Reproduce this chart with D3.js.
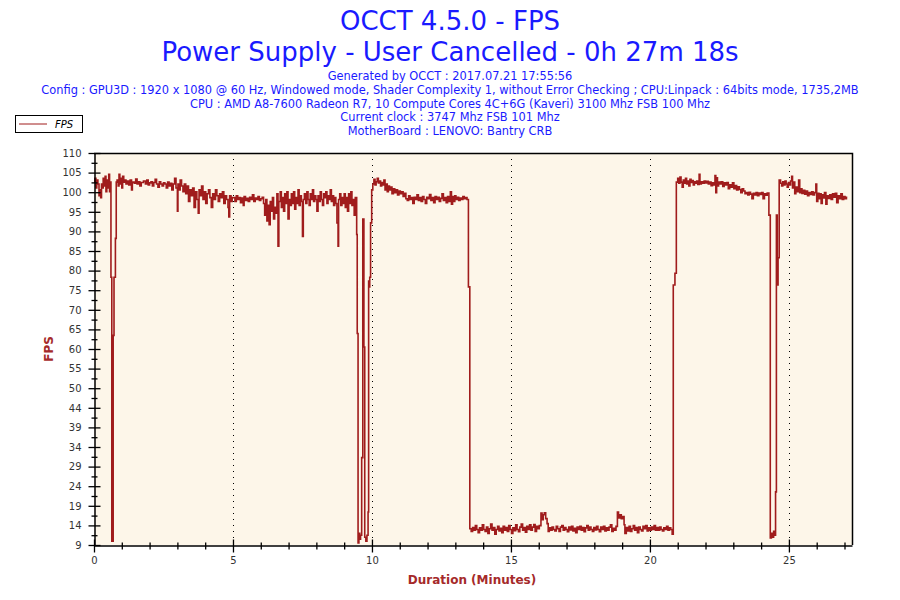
<!DOCTYPE html>
<html>
<head>
<meta charset="utf-8">
<script src="https://cdn.jsdelivr.net/npm/d3@7"></script>
<style>
body { margin: 0; background: #fff; }
text { font-family: "DejaVu Sans", Verdana, sans-serif; }
</style>
</head>
<body>
<div id="viz"></div>
<script>
// header text
var titleLines = ["OCCT 4.5.0 - FPS", "Power Supply - User Cancelled - 0h 27m 18s"];
var infoLines = [
    "Generated by OCCT : 2017.07.21 17:55:56",
    "Config : GPU3D : 1920 x 1080 @ 60 Hz, Windowed mode, Shader Complexity 1, without Error Checking ; CPU:Linpack : 64bits mode, 1735,2MB",
    "CPU : AMD A8-7600 Radeon R7, 10 Compute Cores 4C+6G (Kaveri) 3100 Mhz FSB 100 Mhz",
    "Current clock : 3747 Mhz FSB 101 Mhz",
    "MotherBoard : LENOVO: Bantry CRB"
];
var yTickLabels = ["9","14","19","24","29","34","39","44","50","55","60","65","70","75","80","85","90","95","100","105","110"];
var xTickLabels = ["0","5","10","15","20","25"];

// [minutes, fps], phase by phase
var startRun = [[0,102.5],[0.03,103.5],[0.07,101],[0.1,103],[0.14,102],[0.18,99],[0.21,100.5],[0.24,98.5],[0.27,102],[0.3,101],[0.33,103.5],[0.37,101.5],[0.4,104],[0.43,100],[0.46,103],[0.5,101],[0.53,104.5],[0.56,100],[0.58,102.5],
    [0.61,78],[0.64,10],[0.69,63],[0.72,78],[0.77,88],[0.8,102.5]];
var firstRun = [[0.83,103],[0.87,101.5],[0.9,104.5],[0.93,102],[0.97,103.5],[1.0,101],[1.03,104],[1.07,102.5],[1.1,103],[1.15,102],[1.2,102.8],[1.25,101.8],[1.3,103],[1.35,100.5],[1.38,102.5],[1.45,102.2],[1.5,103.3],[1.55,102],[1.6,102.6],[1.65,101.5],[1.7,102.4],[1.78,102.8],[1.85,102],[1.9,103],[1.95,101.8],[2.0,102.3],[2.05,102.6],[2.1,101.5],[2.15,102.4],[2.2,103.2],[2.25,102],[2.3,101.2],[2.35,102.6],[2.4,102],[2.45,101.5],[2.5,102.3],[2.55,102],[2.6,101],[2.65,102.5],[2.7,101.5],[2.75,102.2],[2.8,100.5],[2.85,102],
    [2.9,103.5],[2.95,101],[3.0,95],[3.02,102],[3.06,100.5],[3.1,103],[3.15,101.5],[3.2,100],[3.25,102],[3.3,99.5],[3.35,101.5],[3.4,97.5],[3.45,100.5],[3.5,99],[3.55,101],[3.6,96],[3.65,100],[3.7,98],[3.75,94.5],[3.78,100.5],[3.82,99],[3.87,101.5],[3.92,98],[3.97,100],[4.02,97],[4.07,99.5],[4.12,100.5],[4.17,98.5],[4.22,96],[4.27,99.5],[4.32,98],[4.37,100.5],[4.42,99],[4.47,97.5],[4.52,99.5],[4.57,98.5],[4.62,100],[4.67,97],[4.72,99],[4.77,98],[4.82,96],[4.85,93.5],[4.88,99],[4.93,97.5],[4.97,98.5],
    [5.02,98.5],[5.07,97.5],[5.12,99],[5.17,98],[5.22,98.5],[5.27,97.2],[5.32,98.4],[5.37,96.5],[5.4,98.8],[5.45,97.8],[5.5,98.3],[5.55,97.5],[5.6,98.6],[5.65,98],[5.7,99.2],[5.75,97.5],[5.8,98.4],[5.85,98],[5.9,98.8],[5.95,97.8],[6.0,98.2],[6.05,98.6],
    [6.1,97],[6.14,94],[6.18,98],[6.22,92.5],[6.26,96.5],[6.3,91.5],[6.34,97.5],[6.38,95],[6.42,98.5],[6.46,93],[6.5,96],[6.54,94.5],[6.58,99.5],[6.62,86],[6.65,97.5],[6.7,100],[6.74,96],[6.78,98.5],[6.82,95],[6.86,99.5],[6.9,97],[6.94,100],[6.98,93],[7.02,98],[7.06,96.5],[7.1,99.5],[7.14,97],[7.18,100],[7.22,95.5],[7.26,98.5],[7.3,97],[7.34,100.5],[7.38,96.5],[7.42,99],[7.46,97.5],[7.5,88.5],[7.53,98],[7.57,99.5],[7.62,97],[7.66,100],[7.7,98],[7.74,96.5],[7.78,99.5],[7.82,98],[7.86,100.5],[7.9,97.5],[7.94,99],[7.98,98],[8.02,95],[8.06,99],[8.1,97.5],[8.14,100],[8.18,98],[8.22,96.5],[8.26,99.5],[8.3,98.5],[8.34,100],[8.38,97],[8.42,99],[8.46,98],[8.5,100.5],[8.54,97.5],[8.58,99],[8.62,96.5],[8.66,98.5],[8.7,97],[8.74,92],[8.78,86],[8.8,98],[8.84,99.5],[8.88,96.5],[8.92,98.5],[8.96,97],[9.0,99.5],[9.04,96],[9.08,98.5],[9.12,95],[9.16,99.5],[9.2,97],[9.24,100],[9.28,96.5],[9.32,98],[9.36,94],[9.4,98.5]];
var firstDrop = [[9.45,89],[9.47,63.5],[9.5,9.5],[9.53,12],[9.56,10.5],[9.59,11.5],[9.63,31.5],[9.67,93],[9.71,60],[9.74,11],[9.78,10],[9.82,11.5],[9.86,17.5],[9.88,77],[9.9,75.5],[9.92,78],[9.95,92],[9.99,100.5]];
var secondRun = [[10.03,102],[10.07,103.2],[10.11,101.8],[10.15,102.6],[10.19,103.5],[10.23,102.3],[10.27,102.8],[10.31,101.5],[10.35,102.4],[10.39,101.8],[10.43,103],[10.47,100.5],[10.51,102],[10.55,100],[10.59,101.5],[10.63,100.5],[10.67,101.2],[10.72,99.5],[10.77,100.8],[10.82,99.8],[10.87,100.5],[10.92,99.2],[10.97,100.2],[11.02,99.5],[11.07,100],[11.12,98.8],[11.17,99.6],[11.22,98.2],[11.27,97.8],[11.32,99],[11.37,98],[11.42,98.5],[11.47,97],[11.52,98.6],[11.57,98],[11.62,99.2],[11.67,97.8],[11.72,98.5],[11.77,97.5],[11.82,98.8],[11.87,98],[11.92,97],[11.97,98.6],[12.02,98.2],[12.07,99.3],[12.12,97.8],[12.17,98.5],[12.22,97.2],[12.27,98.8],[12.32,98],[12.37,98.6],[12.42,97.5],[12.47,98.3],[12.52,99.5],[12.57,97.8],[12.62,98.5],[12.67,97.2],[12.72,98.8],[12.77,97.5],[12.82,100],[12.86,96.8],[12.9,98.8],[12.94,97.5],[12.98,99],[13.02,98],[13.07,98.6],[13.12,97.8],[13.17,98.4],[13.22,98],[13.27,98.8],[13.32,98.2],[13.37,98.5],[13.42,98],
    [13.47,75.5],[13.52,13.2]];
var lowRun = [[13.57,12.5],[13.62,13.5],[13.67,12.8],[13.72,14],[13.77,13],[13.82,12.2],[13.87,13.4],[13.92,12.8],[13.97,14.2],[14.02,13],[14.07,12.5],[14.12,13.6],[14.17,12],[14.22,13.2],[14.27,14.4],[14.32,12.8],[14.37,13.5],[14.42,11.8],[14.47,13],[14.52,13.8],[14.57,12.6],[14.62,13.3],[14.67,12.2],[14.72,13.8],[14.77,12.8],[14.82,13.5],[14.87,12.5],[14.92,14],[14.97,13],[15.02,12],[15.07,13.4],[15.12,12.7],[15.17,14.2],[15.22,13],[15.27,12.4],[15.32,13.6],[15.37,14.4],[15.42,12.8],[15.47,13.5],[15.52,12.3],[15.57,13.8],[15.62,13],[15.67,14.2],[15.72,12.8],[15.77,13.6],[15.82,14.3],[15.87,12.5],[15.92,13.8],[15.97,13.2],[16.02,14],[16.08,17.2],[16.12,15.5],[16.16,16.8],[16.2,17.3],[16.25,15.8],[16.3,14.5],[16.34,12.5],[16.38,13.4],[16.43,12.8],[16.48,13.6],[16.53,13],[16.58,12.6],[16.63,13.8],[16.68,13.2],[16.73,12.5],[16.78,13.6],[16.83,14],[16.88,12.8],[16.93,13.5],[16.98,13],[17.03,12.4],[17.08,13.6],[17.13,12.9],[17.18,13.8],[17.23,12.6],[17.28,13.3],[17.33,12.2],[17.38,13.6],[17.43,13],[17.48,13.8],[17.53,12.8],[17.58,13.5],[17.63,12.4],[17.68,13.4],[17.73,14],[17.78,12.8],[17.83,13.6],[17.88,13],[17.93,12.5],[17.98,13.5],[18.03,12.9],[18.08,13.8],[18.13,13],[18.18,12.4],[18.23,13.6],[18.28,13],[18.33,13.8],[18.38,12.6],[18.43,13.4],[18.48,12.8],[18.53,13.6],[18.58,14.2],[18.63,12.5],[18.68,13.3],[18.73,12.8],[18.78,13.8],[18.83,17.5],[18.87,16],[18.92,16.8],[18.97,15.8],[19.02,16.3],[19.07,14.2],[19.1,12],[19.15,13.5],[19.2,12.6],[19.25,13.8],[19.3,12.5],[19.35,13.2],[19.4,14],[19.45,12.8],[19.5,13.5],[19.55,12.2],[19.6,13.6],[19.65,13],[19.7,12.6],[19.75,13.8],[19.8,13.2],[19.85,14],[19.9,12.6],[19.95,13.4],[20.0,12.8],[20.05,13.6],[20.1,13],[20.15,14],[20.2,12.8],[20.25,13.5],[20.3,12.8],[20.35,13.6],[20.4,13],[20.45,12.6],[20.5,13.4],[20.55,13],[20.6,13.8],[20.65,12.8],[20.7,13.4],[20.75,13],[20.8,11.8],
    [20.84,76],[20.9,79],[20.95,102.5]];
var thirdRun = [[21.0,103.5],[21.04,102.2],[21.08,103.8],[21.12,102.5],[21.16,101.2],[21.2,103],[21.24,102.2],[21.28,103.5],[21.32,102],[21.36,102.8],[21.4,101.5],[21.44,103.2],[21.48,102.4],[21.52,102.9],[21.56,101.8],[21.6,102.6],[21.64,102.2],[21.68,102.8],[21.72,101.9],[21.77,104.5],[21.8,102],[21.85,102.6],[21.9,102.2],[21.95,102.8],[22.0,102.3],[22.05,102.7],[22.1,102],[22.15,102.5],[22.2,101.6],[22.25,102.3],[22.3,101.8],[22.34,104.2],[22.37,99.8],[22.4,103.6],[22.43,101.5],[22.47,102.5],[22.52,102],[22.57,102.6],[22.62,101.4],[22.67,102.3],[22.72,101.8],[22.77,102.4],[22.82,100.8],[22.87,101.8],[22.92,101.2],[22.97,102.3],[23.02,100.8],[23.07,101.6],[23.12,100.5],[23.17,101.3],[23.22,100.6],[23.27,99.8],[23.32,100.8],[23.37,100.2],[23.42,99.5],[23.47,99.8],[23.52,99.2],[23.57,99.9],[23.62,99.4],[23.67,98.2],[23.72,99.6],[23.77,99.2],[23.82,99.8],[23.87,99],[23.92,99.7],[23.97,99.3],[24.02,99.8],[24.07,98.2],[24.12,99.5],[24.17,99.1],[24.22,99.7]];
var lastDrop = [[24.28,94],[24.33,10.8],[24.37,12],[24.41,11],[24.45,12.5],[24.49,11.5],[24.52,22.7],[24.55,94],[24.58,76],[24.61,83],[24.65,103]];
var lastRun = [[24.7,102.2],[24.74,101.5],[24.78,102.6],[24.82,101.8],[24.86,102.8],[24.9,102],[24.94,101.2],[24.98,102.4],[25.02,101.8],[25.06,102.8],[25.1,104],[25.13,101],[25.17,102.5],[25.21,99.5],[25.25,101.2],[25.3,100],[25.35,103],[25.39,99.8],[25.43,100.8],[25.47,99.6],[25.52,100.4],[25.57,99.4],[25.62,100.2],[25.67,99],[25.72,99.8],[25.77,99.3],[25.82,100],[25.87,99.2],[25.92,99.8],[25.97,102],[26.0,97.5],[26.04,99.6],[26.08,98.2],[26.12,99.5],[26.16,97],[26.2,99.2],[26.24,98.4],[26.28,99.8],[26.33,96.8],[26.37,99],[26.42,98.3],[26.47,99.2],[26.52,98],[26.57,99.5],[26.62,98.6],[26.67,99.6],[26.72,97.2],[26.77,99],[26.82,98.2],[26.87,99.5],[26.92,98],[26.97,98.8],[27.02,98.2],[27.07,98.6],[27.1,98.6]];

var fpsData = [].concat(startRun, firstRun, firstDrop, secondRun, lowRun, thirdRun, lastDrop, lastRun);

var W = 900, H = 600;
var svg = d3.select("#viz").append("svg")
        .attr("width", W)
        .attr("height", H);

var blue = "#1a1aff";
var red = "#a01c1c";
var plotL = 94, plotR = 852, plotT = 153, plotB = 545;

var x = d3.scaleLinear().domain([0, 27.27]).range([plotL, plotR]);
var y = d3.scaleLinear().domain([9, 110]).range([plotB, plotT]);

// titles
svg.selectAll("text.title")
    .data(titleLines)
    .enter().append("text")
    .attr("class", "title")
    .attr("x", 450)
    .attr("y", function(d, i) { return 30 + i * 31; })
    .attr("text-anchor", "middle")
    .style("font-size", "26px")
    .style("fill", blue)
    .text(function(d) { return d; });

svg.selectAll("text.info")
    .data(infoLines)
    .enter().append("text")
    .attr("class", "info")
    .attr("x", 450)
    .attr("y", function(d, i) { return 80 + i * 13.8; })
    .attr("text-anchor", "middle")
    .style("font-size", "11.4px")
    .style("fill", blue)
    .text(function(d) { return d; });

// legend
var legend = svg.append("g");
legend.append("rect")
    .attr("x", 15.5).attr("y", 115.5)
    .attr("width", 67).attr("height", 17)
    .style("fill", "#fff").style("stroke", "#000");
legend.append("line")
    .attr("x1", 19).attr("x2", 47).attr("y1", 124).attr("y2", 124)
    .style("stroke", red).style("stroke-width", 1);
legend.append("text")
    .attr("x", 55).attr("y", 128)
    .style("font-size", "10px").style("font-style", "italic")
    .style("fill", "#000")
    .text("FPS");

// plot background
svg.append("rect")
    .attr("x", plotL).attr("y", plotT)
    .attr("width", plotR - plotL).attr("height", plotB - plotT)
    .style("fill", "#fdf6e9");

// dotted verticals
svg.selectAll("line.grid")
    .data([5, 10, 15, 20, 25])
    .enter().append("line")
    .attr("class", "grid")
    .attr("x1", function(d) { return Math.round(x(d)) + 0.5; })
    .attr("x2", function(d) { return Math.round(x(d)) + 0.5; })
    .attr("y1", plotT).attr("y2", plotB)
    .style("stroke", "#000")
    .style("stroke-dasharray", "1,5");

// the FPS trace
var line = d3.line()
    .curve(d3.curveStepAfter)
    .x(function(d) { return x(d[0]); })
    .y(function(d) { return y(d[1]); });

svg.append("path")
    .datum(fpsData)
    .attr("d", line)
    .style("fill", "none")
    .style("stroke", red)
    .style("stroke-width", 1.6);

// frame top/right
svg.append("path")
    .attr("d", "M" + plotL + "," + (plotT + 0.5) + "H" + (plotR + 0.5) + "V" + plotB)
    .style("fill", "none").style("stroke", "#000").style("stroke-width", 1.5);

// y axis
var yMajor = d3.range(21).map(function(i) { return 9 + i * 101 / 20; });
var yMinor = d3.range(20).map(function(i) { return 9 + (i + 0.5) * 101 / 20; });

var yAxis = svg.append("g")
    .attr("transform", "translate(" + (plotL + 0.5) + ",0)")
    .call(d3.axisLeft(y).tickValues(yMajor).tickSize(6).tickSizeOuter(0)
        .tickFormat(function(d, i) { return yTickLabels[i]; }));
yAxis.selectAll(".tick line").attr("x2", 6).attr("x1", -6);
yAxis.selectAll(".tick text").attr("x", -13);

var yAxisMinor = svg.append("g")
    .attr("transform", "translate(" + (plotL + 0.5) + ",0)")
    .call(d3.axisLeft(y).tickValues(yMinor).tickSize(0).tickFormat(""));
yAxisMinor.select(".domain").remove();
yAxisMinor.selectAll(".tick line").attr("x1", -3).attr("x2", 3);

// x axis
var xAxis = svg.append("g")
    .attr("transform", "translate(0," + (plotB + 0.5) + ")")
    .call(d3.axisBottom(x).tickValues([0, 5, 10, 15, 20, 25]).tickSize(6).tickSizeOuter(0)
        .tickFormat(function(d, i) { return xTickLabels[i]; }));
xAxis.selectAll(".tick line").attr("y1", -6).attr("y2", 7);
xAxis.selectAll(".tick text").attr("y", 11);

var xMinor = d3.range(28).filter(function(d) { return d % 5 !== 0; });
var xAxisMinor = svg.append("g")
    .attr("transform", "translate(0," + (plotB + 0.5) + ")")
    .call(d3.axisBottom(x).tickValues(xMinor).tickSize(0).tickFormat(""));
xAxisMinor.select(".domain").remove();
xAxisMinor.selectAll(".tick line").attr("y1", -3).attr("y2", 4);

svg.selectAll(".domain").style("stroke", "#000").style("stroke-width", 1.5);
svg.selectAll(".tick line").style("stroke", "#000").style("stroke-width", 1.3);
svg.selectAll(".tick text")
    .style("font-family", "'DejaVu Sans', Verdana, sans-serif")
    .style("font-size", "10px")
    .style("fill", "#333");

// axis titles
svg.append("text")
    .attr("transform", "translate(53,349) rotate(-90)")
    .attr("text-anchor", "middle")
    .style("font-size", "12px").style("font-weight", "bold")
    .style("fill", "#a52a2a")
    .text("FPS");

svg.append("text")
    .attr("x", 472).attr("y", 584)
    .attr("text-anchor", "middle")
    .style("font-size", "12px").style("font-weight", "bold")
    .style("fill", "#a52a2a")
    .text("Duration (Minutes)");
</script>
</body>
</html>
